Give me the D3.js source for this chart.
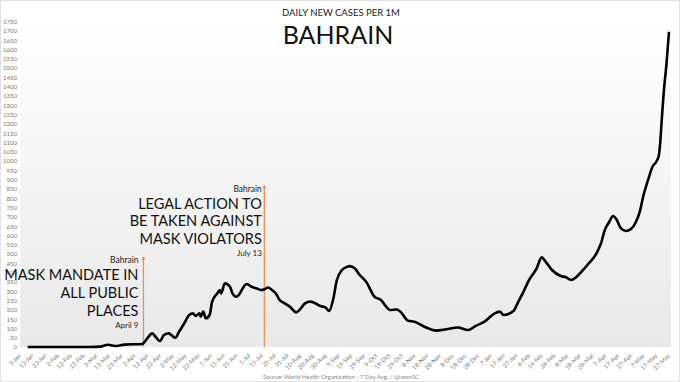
<html>
  <head>
    <script src="https://cdn.jsdelivr.net/npm/d3@7"></script>
    <style>
      body { margin: 0; background: #fff; }
      svg { display: block; font-family: Lato, "Open Sans", sans-serif; }
    </style>
  </head>
  <body>
    <script>
      // 7-day avg daily new cases per 1M
      const dates = [
        "2020-01-09","2020-02-27","2020-03-06","2020-03-12","2020-03-19","2020-03-25","2020-04-08",
        "2020-04-11","2020-04-16","2020-04-18","2020-04-22","2020-04-25","2020-04-29","2020-05-01",
        "2020-05-04","2020-05-07","2020-05-11","2020-05-15","2020-05-18","2020-05-20","2020-05-23",
        "2020-05-24","2020-05-26","2020-05-28","2020-05-31","2020-06-02","2020-06-06","2020-06-08",
        "2020-06-09","2020-06-12","2020-06-16","2020-06-18","2020-06-21","2020-06-23","2020-06-26",
        "2020-06-29","2020-07-03","2020-07-07","2020-07-11","2020-07-13","2020-07-16","2020-07-19",
        "2020-07-22","2020-07-25","2020-07-29","2020-08-02","2020-08-07","2020-08-10","2020-08-14",
        "2020-08-18","2020-08-22","2020-08-26","2020-08-30","2020-09-02","2020-09-05","2020-09-08",
        "2020-09-12","2020-09-16","2020-09-18","2020-09-22","2020-09-26","2020-10-01","2020-10-08",
        "2020-10-12","2020-10-20","2020-10-25","2020-10-28","2020-11-03","2020-11-08","2020-11-17",
        "2020-11-25","2020-12-03","2020-12-12","2020-12-20","2020-12-26","2021-01-02","2021-01-10",
        "2021-01-14","2021-01-17","2021-01-25","2021-01-28","2021-02-01","2021-02-06","2021-02-12",
        "2021-02-16","2021-02-19","2021-02-24","2021-03-03","2021-03-07","2021-03-11","2021-03-15",
        "2021-03-20","2021-03-25","2021-03-31","2021-04-04","2021-04-06","2021-04-10","2021-04-13",
        "2021-04-16","2021-04-19","2021-04-23","2021-04-27","2021-05-01","2021-05-04","2021-05-07",
        "2021-05-10","2021-05-11","2021-05-14","2021-05-17","2021-05-19","2021-05-20","2021-05-21",
        "2021-05-22","2021-05-23","2021-05-25","2021-05-27"
      ];
      const cases = [
        0, 0, 2, 12, 5, 13, 16,
        37, 73, 59, 32, 64, 73, 64,
        50, 82, 127, 172, 181, 167, 181,
        163, 190, 154, 172, 244, 288, 306,
        288, 342, 324, 288, 270, 280, 315,
        339, 324, 315, 306, 310, 320, 306,
        288, 253, 235, 217, 186, 202, 235,
        244, 235, 220, 213, 194, 253, 360,
        414, 431, 435, 423, 387, 351, 267,
        256, 199, 202, 190, 141, 136, 105,
        88, 95, 105, 91, 113, 136, 181,
        190, 172, 195, 235, 288, 360, 423,
        482, 459, 414, 382, 375, 360, 375,
        410, 450, 503, 566, 618, 672, 704,
        683, 640, 624, 634, 672, 726, 817,
        887, 908, 969, 996, 1030, 1090, 1190,
        1290, 1380, 1520, 1695
      ];

      const annDates = ["2020-04-09", "2020-07-13"];
      const annTops = [475, 860];
      const annCountry = ["Bahrain", "Bahrain"];
      const annText = [
        ["MASK MANDATE IN", "ALL PUBLIC", "PLACES"],
        ["LEGAL ACTION TO", "BE TAKEN AGAINST", "MASK VIOLATORS"]
      ];
      const annDateLabels = ["April 9", "July 13"];

      const axisStart = "2020-01-03", axisEnd = "2021-05-27";
      const yMax = 1750, yStep = 50;

      const width = 680, height = 382;
      const parse = d3.utcParse("%Y-%m-%d");
      const data = dates.map((d, i) => ({ date: parse(d), value: cases[i] }));

      const x = d3.scaleUtc()
          .domain([parse(axisStart), parse(axisEnd)])
          .range([20, 669]);
      const y = d3.scaleLinear()
          .domain([0, yMax])
          .range([347, 21.5]);

      const svg = d3.select("body").append("svg")
          .attr("width", width)
          .attr("height", height);

      const grad = svg.append("defs").append("linearGradient")
          .attr("id", "bg")
          .attr("x1", 0).attr("x2", 0).attr("y1", 0).attr("y2", 1);
      grad.append("stop").attr("offset", "0%").attr("stop-color", "#ffffff");
      grad.append("stop").attr("offset", "100%").attr("stop-color", "#e9e9e9");

      svg.append("rect")
          .attr("x", 0.5).attr("y", 0.5)
          .attr("width", width - 1).attr("height", height - 1)
          .attr("fill", "#fff")
          .attr("stroke", "#e2e2e2");

      svg.append("rect")
          .attr("x", 20).attr("y", y(yMax))
          .attr("width", 671 - 20).attr("height", y(0) - y(yMax))
          .attr("fill", "url(#bg)");

      // y axis
      svg.append("g")
          .attr("transform", "translate(20,0)")
          .call(d3.axisLeft(y).tickValues(d3.range(0, yMax + 1, yStep))
              .tickFormat(d3.format("d")).tickSize(0).tickPadding(3))
          .call(g => g.select(".domain").remove())
          .selectAll("text")
          .style("font-family", "Lato, sans-serif")
          .style("font-size", "6px")
          .style("fill", "#777");

      // x axis, every 10 days
      const xTicks = d3.range(0, 52).map(i => d3.utcDay.offset(parse(axisStart), i * 10));
      svg.append("g")
          .attr("transform", `translate(0,${y(0)})`)
          .call(d3.axisBottom(x).tickValues(xTicks).tickFormat(d3.utcFormat("%-d-%b")).tickSize(0))
          .call(g => g.select(".domain").remove())
          .selectAll("text")
          .attr("x", 0).attr("y", 0).attr("dy", null)
          .attr("transform", "translate(1,9) rotate(-45)")
          .attr("text-anchor", "end")
          .style("font-family", "Lato, sans-serif")
          .style("font-size", "6px")
          .style("fill", "#777");

      // annotations
      const annOffsets = [5, 2.5];
      annDates.forEach((d, i) => {
        const ax = x(parse(d));
        const top = y(annTops[i]);
        const tx = ax - annOffsets[i];
        const g = svg.append("g");
        g.append("line")
            .attr("x1", ax).attr("x2", ax)
            .attr("y1", top).attr("y2", y(0))
            .attr("stroke", "#eb9150")
            .attr("stroke-width", 1.3);
        g.append("circle")
            .attr("cx", ax).attr("cy", top).attr("r", 1.6)
            .attr("fill", "#eb9150");
        g.append("text")
            .attr("x", tx).attr("y", top + 4.5)
            .attr("text-anchor", "end")
            .style("font-size", "8.5px")
            .style("fill", "#222")
            .text(annCountry[i]);
        annText[i].forEach((t, j) => {
          g.append("text")
              .attr("x", tx).attr("y", top + 21.5 + j * 17.7)
              .attr("text-anchor", "end")
              .style("font-size", "14.5px")
              .style("fill", "#111")
              .text(t);
        });
        g.append("text")
            .attr("x", tx).attr("y", top + 21.5 + (annText[i].length - 1) * 17.7 + 12.5)
            .attr("text-anchor", "end")
            .style("font-size", "8px")
            .style("fill", "#222")
            .text(annDateLabels[i]);
      });

      const line = d3.line()
          .x(d => x(d.date))
          .y(d => y(d.value))
          .curve(d3.curveMonotoneX);

      svg.append("path")
          .datum(data)
          .attr("fill", "none")
          .attr("stroke", "#000")
          .attr("stroke-width", 2.6)
          .attr("stroke-linejoin", "round")
          .attr("d", line);

      // titles
      svg.append("text")
          .attr("x", 341).attr("y", 16)
          .attr("text-anchor", "middle")
          .style("font-size", "9.5px")
          .style("fill", "#222")
          .text("DAILY NEW CASES PER 1M");
      svg.append("text")
          .attr("x", 338).attr("y", 44)
          .attr("text-anchor", "middle")
          .style("font-size", "25px")
          .style("fill", "#111")
          .text("BAHRAIN");

      svg.append("text")
          .attr("x", 341).attr("y", 379)
          .attr("text-anchor", "middle")
          .style("font-size", "6px")
          .style("fill", "#888")
          .text("Source: World Health Organization - 7 Day Avg. / @ianmSC");
    </script>
  </body>
</html>
